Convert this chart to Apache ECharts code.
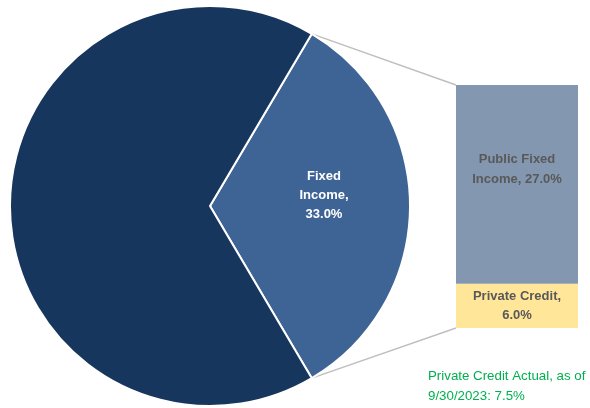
<!DOCTYPE html>
<html><head><meta charset="utf-8">
<script src="https://cdn.jsdelivr.net/npm/echarts@6/dist/echarts.min.js"></script>
<style>html,body{margin:0;padding:0;background:#fff}#c{width:590px;height:408px}</style>
</head><body><div id="c"></div>
<script>
const pieNames = ['Fixed\nIncome', 'Other'];
const pieValues = [33.0, 67.0];
const barNames = ['Private Credit', 'Public Fixed\nIncome'];
const barValues = [6.0, 27.0];
const noteLines = ['Private Credit Actual, as of', '9/30/2023: 7.5%'];

const CX = 210, CY = 206, R = 200;
const startAngle = pieValues[0] / 100 * 360 / 2;
const FONT = '"Liberation Sans", Arial, sans-serif';

const chart = echarts.init(document.getElementById('c'), null, {renderer: 'canvas'});
const fmt = v => v.toFixed(1) + '%';
chart.setOption({
  animation: false,
  grid: {left: 456, top: 85, width: 122, height: 243},
  xAxis: {type: 'category', data: ['FI'], show: false},
  yAxis: {type: 'value', min: 0, max: barValues[0] + barValues[1], show: false},
  series: [
    {
      type: 'pie', center: [CX, CY], radius: R, startAngle: startAngle, clockwise: true,
      itemStyle: {borderColor: '#fff', borderWidth: 2},
      labelLine: {show: false},
      data: [
        {name: pieNames[0], value: pieValues[0], itemStyle: {color: '#3e6496'},
         label: {show: true, position: 'inside', formatter: p => p.name + ',\n' + fmt(p.value),
                 color: '#fff', fontFamily: FONT, fontWeight: 'bold', fontSize: 13, lineHeight: 19, align: 'center', offset: [11, -11]}},
        {name: pieNames[1], value: pieValues[1], itemStyle: {color: '#17365d'}, label: {show: false}}
      ]
    },
    {
      type: 'bar', stack: 's', barWidth: '100%', data: [barValues[0]],
      itemStyle: {color: '#ffe699'},
      label: {show: true, position: 'inside', overflow: 'none', formatter: () => barNames[0] + ',\n' + fmt(barValues[0]),
              color: '#595959', fontFamily: FONT, fontWeight: 'bold', fontSize: 13, lineHeight: 19}
    },
    {
      type: 'bar', stack: 's', barWidth: '100%', data: [barValues[1]],
      itemStyle: {color: '#8497b0'},
      label: {show: true, position: 'inside', overflow: 'none', formatter: () => barNames[1] + ', ' + fmt(barValues[1]),
              color: '#595959', fontFamily: FONT, fontWeight: 'bold', fontSize: 13, lineHeight: 20, offset: [0, -15]}
    }
  ]
});

const a1 = startAngle * Math.PI / 180, a2 = -startAngle * Math.PI / 180;
const pTop = [CX + R * Math.cos(a1), CY - R * Math.sin(a1)];
const pBot = [CX + R * Math.cos(a2), CY - R * Math.sin(a2)];
const total = barValues[0] + barValues[1];
const bTop = chart.convertToPixel({gridIndex: 0}, ['FI', total]);
const bBot = chart.convertToPixel({gridIndex: 0}, ['FI', 0]);
const bMid = chart.convertToPixel({gridIndex: 0}, ['FI', barValues[0]]);
const barLeft = 456;
chart.setOption({
  graphic: [
    {type: 'line', shape: {x1: pTop[0], y1: pTop[1], x2: barLeft, y2: bTop[1]}, style: {stroke: '#bfbfbf', lineWidth: 1.5}},
    {type: 'line', shape: {x1: pBot[0], y1: pBot[1], x2: barLeft, y2: bBot[1]}, style: {stroke: '#bfbfbf', lineWidth: 1.5}},
    {type: 'rect', shape: {x: barLeft, y: bMid[1] - 1, width: 122, height: 2}, style: {fill: '#fff'}},
    {type: 'text', left: 428, top: 366, style: {text: noteLines.join('\n'), fill: '#00b050', font: '13.3px "Liberation Sans"', lineHeight: 20}}
  ]
});
</script></body></html>
